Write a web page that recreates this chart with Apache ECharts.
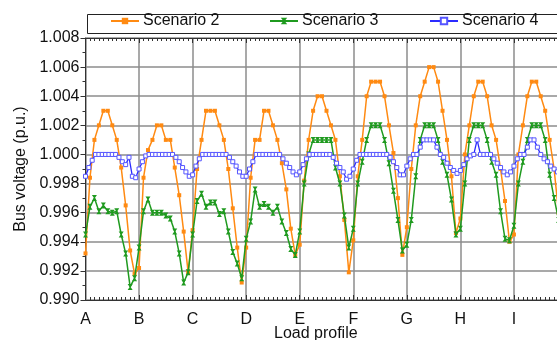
<!DOCTYPE html>
<html>
<head>
<meta charset="utf-8">
<script src="https://cdn.jsdelivr.net/npm/echarts@6/dist/echarts.min.js"></script>
<style>html,body{margin:0;padding:0;background:#fff;}#c{width:557px;height:340px;}</style>
</head>
<body>
<div id="c"></div>
<script>
// ---- data ----
var categories = ['A','B','C','D','E','F','G','H','I'];
var seriesNames = ['Scenario 2','Scenario 3','Scenario 4'];
var yTicks = [0.990,0.992,0.994,0.996,0.998,1.000,1.002,1.004,1.006,1.008];

// Scenario 2: 12 points per load profile
var scenario2PerProfile = 12;
var scenario2 = [
  0.9932,0.9984,1.0010,1.0020,1.0030,1.0030,1.0020,1.0010,0.9991,0.9965,0.9934,0.9918,
  0.9922,0.9984,1.0003,1.0010,1.0020,1.0020,1.0010,1.0010,0.9991,0.9972,0.9947,0.9919,
  0.9948,0.9990,1.0010,1.0030,1.0030,1.0030,1.0020,1.0010,0.9990,0.9963,0.9936,0.9912,
  0.9936,0.9984,1.0010,1.0010,1.0030,1.0030,1.0020,1.0010,0.9994,0.9976,0.9949,0.9931,
  0.9938,0.9982,1.0010,1.0030,1.0040,1.0040,1.0030,1.0020,1.0010,0.9985,0.9955,0.9919,
  0.9941,0.9985,1.0010,1.0040,1.0050,1.0050,1.0050,1.0040,1.0020,1.0001,0.9970,0.9931,
  0.9950,0.9990,1.0020,1.0040,1.0050,1.0060,1.0060,1.0050,1.0030,1.0010,0.9985,0.9946,
  0.9956,1.0000,1.0020,1.0040,1.0050,1.0050,1.0040,1.0020,1.0010,0.9990,0.9968,0.9940,
  0.9945,1.0000,1.0020,1.0040,1.0050,1.0050,1.0040,1.0030,1.0010,0.9990,0.9960,0.9930
];

// Scenario 3: 12 points per load profile
var scenario3PerProfile = 12;
var scenario3 = [
  0.9945,0.9964,0.9970,0.9961,0.9965,0.9961,0.9960,0.9961,0.9945,0.9932,0.9909,0.9915,
  0.9936,0.9961,0.9969,0.9960,0.9960,0.9960,0.9958,0.9956,0.9947,0.9932,0.9912,0.9919,
  0.9945,0.9968,0.9973,0.9964,0.9967,0.9967,0.9959,0.9961,0.9947,0.9933,0.9925,0.9915,
  0.9942,0.9954,0.9976,0.9964,0.9966,0.9964,0.9960,0.9964,0.9954,0.9946,0.9935,0.9931,
  0.9947,0.9980,1.0000,1.0010,1.0010,1.0010,1.0010,1.0010,0.9991,0.9980,0.9958,0.9936,
  0.9949,0.9980,0.9995,1.0010,1.0020,1.0020,1.0020,1.0010,0.9994,0.9975,0.9955,0.9934,
  0.9938,0.9955,0.9985,1.0010,1.0020,1.0020,1.0020,1.0010,0.9995,0.9986,0.9969,0.9945,
  0.9949,0.9980,1.0010,1.0020,1.0020,1.0020,1.0010,0.9995,0.9986,0.9961,0.9942,0.9941,
  0.9951,0.9980,0.9995,1.0010,1.0020,1.0020,1.0020,1.0010,0.9986,0.9970,0.9955,0.9940
];

// Scenario 4: 16 points per load profile
var scenario4PerProfile = 16;
var scenario4 = [
  0.9985,0.9991,0.9996,1.0000,1.0000,1.0000,1.0000,1.0000,1.0000,1.0000,0.9998,0.9995,0.9993,0.9998,0.9985,0.9984,
  0.9990,0.9995,0.9999,1.0000,1.0000,1.0000,1.0000,1.0000,1.0000,1.0000,1.0000,0.9998,0.9995,0.9991,0.9988,0.9985,
  0.9986,0.9992,0.9997,1.0000,1.0000,1.0000,1.0000,1.0000,1.0000,1.0000,1.0000,0.9998,0.9995,0.9992,0.9988,0.9985,
  0.9985,0.9990,0.9995,1.0000,1.0000,1.0000,1.0000,1.0000,1.0000,1.0000,1.0000,0.9997,0.9994,0.9991,0.9988,0.9986,
  0.9988,0.9993,0.9997,1.0000,1.0000,1.0000,1.0000,1.0000,1.0000,1.0000,0.9998,0.9994,0.9991,0.9988,0.9983,0.9985,
  0.9990,0.9996,1.0000,1.0000,1.0000,1.0000,1.0000,1.0000,1.0000,1.0000,1.0000,0.9998,0.9995,0.9991,0.9986,0.9986,
  0.9992,0.9997,1.0000,1.0000,1.0005,1.0010,1.0010,1.0010,1.0010,1.0005,1.0000,0.9998,0.9994,0.9991,0.9989,0.9987,
  0.9989,0.9993,0.9997,0.9999,1.0000,1.0010,1.0000,1.0000,1.0000,1.0000,0.9997,0.9994,0.9991,0.9988,0.9986,0.9988,
  0.9992,0.9997,1.0000,1.0000,1.0005,1.0010,1.0010,1.0005,1.0000,0.9997,0.9995,0.9992,0.9990,0.9988,0.9986,0.9986
];

function toPairs(values, perProfile) {
  return values.map(function (v, i) { return [i / perProfile, v]; });
}

var FONT = 'Liberation Sans, Arial, sans-serif';
var chart = echarts.init(document.getElementById('c'), null, {renderer: 'canvas'});

var gridColor = '#8c8c8c';
var axisColor = '#333';

var option = {
  animation: false,
  backgroundColor: '#fff',
  textStyle: {fontFamily: FONT},
  grid: {left: 85.5, top: 38, width: 482, height: 262, containLabel: false, outerBoundsMode: 'none'},
  legend: [
    {data: [seriesNames[0]], left: 110, top: 13, padding: 0, itemWidth: 28, itemHeight: 8, itemGap: 0,
     textStyle: {fontFamily: FONT, fontSize: 16, color: '#111', padding: [0,0,0,-1]}},
    {data: [seriesNames[1]], left: 269, top: 13, padding: 0, itemWidth: 28, itemHeight: 8, itemGap: 0,
     textStyle: {fontFamily: FONT, fontSize: 16, color: '#111', padding: [0,0,0,-1]}},
    {data: [seriesNames[2]], left: 429, top: 13, padding: 0, itemWidth: 28, itemHeight: 8, itemGap: 0,
     textStyle: {fontFamily: FONT, fontSize: 16, color: '#111', padding: [0,0,0,-1]}}
  ],
  graphic: [
    {type: 'rect', left: 85, top: 12, z: 0, silent: true,
     shape: {width: 480, height: 19}, style: {fill: 'none', stroke: '#222', lineWidth: 1}},
    {type: 'text', left: 274, top: 326, silent: true,
     style: {text: 'Load profile', font: '16px ' + FONT, fill: '#111'}}
  ],
  xAxis: [
    {
      type: 'value', min: 0, max: 9, interval: 1, position: 'bottom',
      axisLine: {show: true, onZero: false, lineStyle: {color: axisColor, width: 1}},
      axisTick: {show: true, inside: true, length: 5, lineStyle: {color: axisColor}},
      minorTick: {show: true, splitNumber: 12, length: 3, lineStyle: {color: axisColor}},
      axisLabel: {show: true, margin: 12, fontSize: 16, fontFamily: FONT, color: '#111',
        formatter: function (v) { return categories[Math.round(v)] || ''; }},
      splitLine: {show: true, lineStyle: {color: gridColor, width: 1.5}},
      minorSplitLine: {show: false}
    },
    {
      type: 'value', min: 0, max: 9, interval: 1, position: 'top',
      axisLine: {show: true, onZero: false, lineStyle: {color: axisColor, width: 1}},
      axisTick: {show: true, inside: true, length: 5, lineStyle: {color: axisColor}},
      minorTick: {show: true, splitNumber: 12, length: 3, lineStyle: {color: axisColor}},
      axisLabel: {show: false},
      splitLine: {show: false}
    }
  ],
  yAxis: {
    type: 'value', min: yTicks[0], max: yTicks[yTicks.length - 1], interval: 0.002,
    name: 'Bus voltage (p.u.)', nameLocation: 'middle', nameGap: 57,
    nameTextStyle: {fontSize: 16, fontFamily: FONT, color: '#111'},
    axisLine: {show: true, onZero: false, lineStyle: {color: axisColor, width: 1}},
    axisTick: {show: true, inside: false, length: 5, lineStyle: {color: axisColor}},
    minorTick: {show: true, splitNumber: 2, length: 3, lineStyle: {color: axisColor}},
    axisLabel: {margin: 6, fontSize: 16, fontFamily: FONT, color: '#111',
      formatter: function (v) { return v.toFixed(3); }},
    splitLine: {show: true, lineStyle: {color: gridColor, width: 1.5}}
  },
  series: [
    {
      name: seriesNames[0], type: 'line', data: toPairs(scenario2, scenario2PerProfile),
      symbol: 'rect', symbolSize: 4, showAllSymbol: true,
      lineStyle: {color: '#ff8a12', width: 1.5},
      itemStyle: {color: '#ff8a12'}, z: 3
    },
    {
      name: seriesNames[1], type: 'line', data: toPairs(scenario3, scenario3PerProfile),
      symbol: 'path://M0,0 L10,0 L6,5 L10,10 L0,10 L4,5 Z', symbolSize: [5, 6], showAllSymbol: true,
      lineStyle: {color: '#1f9a1f', width: 1.5},
      itemStyle: {color: '#1f9a1f'}, z: 4
    },
    {
      name: seriesNames[2], type: 'line', data: toPairs(scenario4, scenario4PerProfile),
      symbol: 'rect', symbolSize: 4, showAllSymbol: true,
      lineStyle: {color: '#2b2bff', width: 1.3},
      itemStyle: {color: '#ffffff', borderColor: '#5555ff', borderWidth: 1}, z: 5
    }
  ]
};
chart.setOption(option);
</script>
</body>
</html>
